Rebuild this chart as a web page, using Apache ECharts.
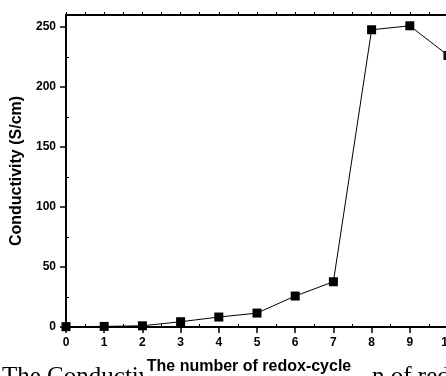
<!DOCTYPE html>
<html>
<head>
<meta charset="utf-8">
<script src="https://cdn.jsdelivr.net/npm/echarts@6/dist/echarts.min.js"></script>
<style>html,body{margin:0;padding:0;background:#fff}#c{width:446px;height:376px}</style>
</head>
<body>
<div id="c"></div>
<script>
var cycles = [0, 1, 2, 3, 4, 5, 6, 7, 8, 9, 10];
var conductivity = [0.3, 0.5, 1.0, 4.4, 8.3, 11.6, 25.8, 37.7, 247.7, 251, 226.3];
var xTitle = 'The number of redox-cycle';
var yTitle = 'Conductivity (S/cm)';
var caption = 'The Conductivity profile as a function of redox-cycle';

var FONT = '"Liberation Sans", Arial, sans-serif';
var chart = echarts.init(document.getElementById('c'), null, {renderer: 'canvas'});
var pts = cycles.map(function (c, i) { return [c, conductivity[i]]; });
var lineStyle = {color: '#000', width: 2};
chart.setOption({
  animation: false,
  backgroundColor: '#fff',
  graphic: [{
    type: 'text', left: 2, top: 365, z: -10,
    style: {text: caption, font: '25px "Liberation Serif", "Times New Roman", serif', fill: '#000'}
  }],
  grid: {left: 66, top: 15, width: 382, height: 312, containLabel: false, outerBoundsMode: 'none'},
  xAxis: [{
    type: 'value', min: 0, max: 10, interval: 1, position: 'bottom',
    name: xTitle, nameLocation: 'middle', nameGap: 32,
    nameTextStyle: {fontFamily: FONT, fontWeight: 'bold', fontSize: 16, color: '#000', backgroundColor: '#fff', padding: [0, 20, 14, 4]},
    axisLine: {show: true, lineStyle: lineStyle},
    axisTick: {show: true, inside: false, length: 6, lineStyle: {color: '#000', width: 1.5}},
    axisLabel: {fontFamily: FONT, fontWeight: 'bold', fontSize: 12, color: '#000', margin: 10, showMaxLabel: true, hideOverlap: false},
    splitLine: {show: false}
  }, {
    type: 'value', min: 0, max: 10, interval: 1, position: 'bottom',
    axisLine: {show: false}, axisTick: {show: false, inside: true},
    minorTick: {show: true, splitNumber: 2, length: 3, lineStyle: {color: '#000', width: 1}},
    axisLabel: {show: false}, splitLine: {show: false}
  }, {
    type: 'value', min: 0, max: 10, interval: 1, position: 'top',
    axisLine: {show: true, lineStyle: lineStyle},
    axisTick: {show: true, inside: false, length: 3, lineStyle: {color: '#000', width: 1}},
    minorTick: {show: true, splitNumber: 2, length: 3, lineStyle: {color: '#000', width: 1}},
    axisLabel: {show: false}, splitLine: {show: false}
  }],
  yAxis: [{
    type: 'value', min: 0, max: 260, interval: 50, position: 'left',
    name: yTitle, nameLocation: 'middle', nameGap: 38,
    nameTextStyle: {fontFamily: FONT, fontWeight: 'bold', fontSize: 16, color: '#000'},
    axisLine: {show: true, lineStyle: lineStyle},
    axisTick: {show: true, inside: false, length: 6, lineStyle: {color: '#000', width: 1.5}},
    axisLabel: {fontFamily: FONT, fontWeight: 'bold', fontSize: 12, color: '#000', margin: 10, showMaxLabel: false},
    splitLine: {show: false}
  }, {
    type: 'value', min: 0, max: 260, interval: 50, position: 'left',
    axisLine: {show: false}, axisTick: {show: false, inside: true},
    minorTick: {show: true, splitNumber: 2, length: 3, lineStyle: {color: '#000', width: 1}},
    axisLabel: {show: false}, splitLine: {show: false}
  }],
  series: [{
    type: 'line', xAxisIndex: 0, yAxisIndex: 0, data: pts,
    symbol: 'rect', symbolSize: 9, clip: false,
    itemStyle: {color: '#000'},
    lineStyle: {color: '#000', width: 1}
  }]
});
</script>
</body>
</html>
